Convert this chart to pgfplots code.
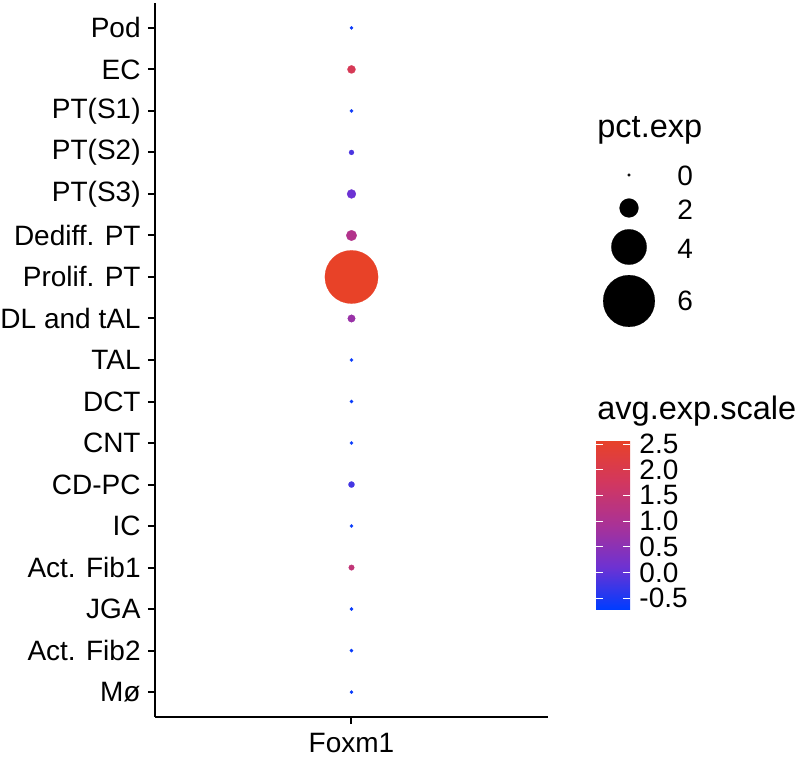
\documentclass[border=0pt]{standalone}
\usepackage{fontspec}
\setmainfont{Liberation Sans}
\usepackage{pgfplots}
\pgfplotsset{compat=1.18}
\usepackage{pgfplotstable}

\pgfplotstableread{
y pct avg
17 0.12 -0.62
16 0.70 1.90
15 0.14 -0.60
14 0.32 -0.15
13 0.80 0.10
12 1.00 1.10
11 6.20 2.58
10 0.63 0.70
9 0.12 -0.65
8 0.12 -0.65
7 0.12 -0.65
6 0.46 -0.20
5 0.12 -0.65
4 0.39 1.40
3 0.12 -0.65
2 0.12 -0.65
1 0.12 -0.65
}\dotdata

\pgfplotsset{colormap={dotmap}{rgb255=(0,60,255) rgb255=(110,50,210) rgb255=(170,50,150) rgb255=(210,55,95) rgb255=(232,66,40)}}

\newcommand{\lblfont}{\fontsize{14}{16}\selectfont}
\newcommand{\ttlfont}{\fontsize{16.25}{19}\selectfont}

\begin{document}
\begin{tikzpicture}
\useasboundingbox (-77.5pt,-20pt) rectangle (322.5pt,358.5pt);
\begin{axis}[
  at={(0pt,0pt)}, anchor=south west,
  scale only axis, width=196.5pt, height=357pt,
  xmin=0.4, xmax=1.6, ymin=0.4, ymax=17.6,
  xtick={1}, xticklabels={Foxm1},
  ytick={1,...,17},
  yticklabels={Mø,Act. Fib2,JGA,Act. Fib1,IC,CD-PC,CNT,DCT,TAL,DL and tAL,Prolif. PT,Dediff. PT,PT(S3),PT(S2),PT(S1),EC,Pod},
  axis x line*=bottom, axis y line*=left,
  axis line style={line width=1pt, black},
  tick align=outside, major tick length=3.5pt,
  tick style={line width=1pt, black},
  yticklabel style={font=\lblfont, inner sep=0pt, xshift=-3.5pt},
  xticklabel style={font=\lblfont, inner sep=0pt, yshift=-4.5pt},
  colormap name=dotmap,
  point meta min=-0.71, point meta max=2.58,
  colorbar,
  colorbar/width=17pt,
  colorbar style={
    at={(parent axis.south east)}, anchor=south west, xshift=15.5pt, yshift=54pt,
    height=84.5pt,
    axis line style={draw=none},
    ytick={-0.5,0,0.5,1,1.5,2,2.5},
    yticklabels={-0.5,0.0,0.5,1.0,1.5,2.0,2.5},
    ytick pos=both, yticklabel pos=right,
    tick align=inside, major tick length=3.4pt,
    tick style={white, line width=0.6pt},
    yticklabel style={font=\lblfont, inner sep=0pt, xshift=4.5pt},
  },
]
\addplot[scatter, only marks, mark=*, point meta=explicit,
  mark options={line width=0.1pt},
  scatter/use mapped color={draw=mapped color, fill=mapped color},
  visualization depends on={\thisrow{pct} \as \pct},
  scatter/@pre marker code/.append style={/tikz/mark size={2.05*\pct+0.6}}]
  table[x expr=1, y=y, meta=avg] {\dotdata};
\end{axis}
\begin{axis}[
  at={(-77.5pt,-20pt)}, anchor=south west,
  scale only axis, width=400pt, height=378.5pt,
  xmin=0, xmax=800, ymin=0, ymax=757,
  hide axis, clip=false,
]
\addplot[only marks, mark=*, mark size=0.7pt, mark options={draw=black, fill=black, line width=0.1pt}] coordinates {(629,582)};
\addplot[only marks, mark=*, mark size=4.725pt, mark options={draw=black, fill=black, line width=0.1pt}] coordinates {(629,549)};
\addplot[only marks, mark=*, mark size=8.825pt, mark options={draw=black, fill=black, line width=0.1pt}] coordinates {(629,510)};
\addplot[only marks, mark=*, mark size=12.925pt, mark options={draw=black, fill=black, line width=0.1pt}] coordinates {(629,456)};
\node[anchor=west, inner sep=0pt, font=\lblfont] at (axis cs:677,581) {0};
\node[anchor=west, inner sep=0pt, font=\lblfont] at (axis cs:677,547) {2};
\node[anchor=west, inner sep=0pt, font=\lblfont] at (axis cs:677,508) {4};
\node[anchor=west, inner sep=0pt, font=\lblfont] at (axis cs:677,456) {6};
\node[anchor=base west, inner sep=0pt, font=\ttlfont] at (axis cs:597,619) {pct.exp};
\node[anchor=base west, inner sep=0pt, font=\ttlfont] at (axis cs:597,337) {avg.exp.scale};
\end{axis}
\end{tikzpicture}
\end{document}
